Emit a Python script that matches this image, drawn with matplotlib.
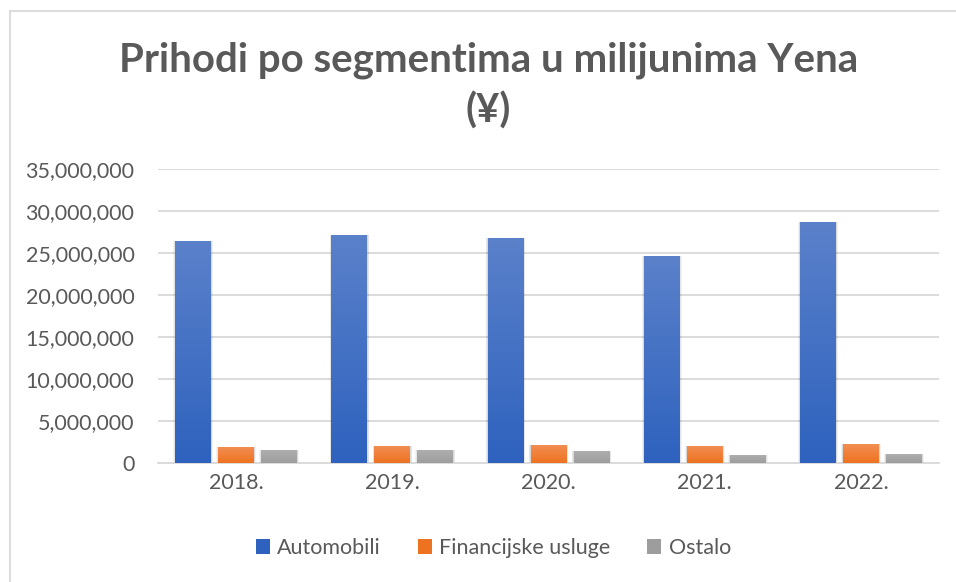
import numpy as np
import matplotlib
matplotlib.use("Agg")
import matplotlib.pyplot as plt
from matplotlib.patches import Rectangle
from matplotlib.ticker import FuncFormatter

years = ["2018.", "2019.", "2020.", "2021.", "2022."]
automobili = [26430000, 27150000, 26790000, 24650000, 28690000]
financijske = [1940000, 2060000, 2180000, 2060000, 2290000]
ostalo = [1580000, 1580000, 1460000, 990000, 1100000]

series = [
    ("Automobili", automobili, "#2e62be", "#5b81ca"),
    ("Financijske usluge", financijske, "#ee7320", "#f28f55"),
    ("Ostalo", ostalo, "#9d9d9d", "#b0b0b0"),
]

plt.rcParams['font.family'] = ['Lato', 'DejaVu Sans']
txt = "#595959"
grid = "#d9d9d9"

fig = plt.figure(figsize=(9.56, 5.82), dpi=100)
ax = fig.add_axes([0.1653, 0.204, 0.817, 0.5057])

x = np.arange(len(years))
w = 0.23
step = 0.275

for k, (name, vals, dark, light) in enumerate(series):
    off = (k - 1) * step
    bars = ax.bar(x + off, vals, w, color=dark, label=name, zorder=3)
    grad = np.linspace(0, 1, 256).reshape(-1, 1)
    cmap = matplotlib.colors.LinearSegmentedColormap.from_list("g", [dark, light])
    for b in bars:
        bx, by = b.get_x(), b.get_y()
        bw, bh = b.get_width(), b.get_height()
        # soft shadow
        for s in range(4):
            sh = Rectangle((bx - 0.004 * s, by - 120000 * s), bw + 0.008 * s, bh + 120000 * s,
                           color="black", alpha=0.05, zorder=2, lw=0)
            ax.add_patch(sh)
        im = ax.imshow(grad, extent=[bx, bx + bw, by, by + bh], origin="lower",
                       aspect="auto", cmap=cmap, zorder=4)
        im.set_clip_path(b)

ax.set_xlim(-0.5, len(years) - 0.5)
ax.set_ylim(0, 35000000)
ax.set_yticks(np.arange(0, 35000001, 5000000))
ax.yaxis.set_major_formatter(FuncFormatter(lambda v, p: f"{int(v):,}"))
ax.set_xticks(x)
ax.set_xticklabels(years)
ax.grid(axis="y", color=grid, lw=1.3, zorder=0)
for sp in ["top", "right", "left"]:
    ax.spines[sp].set_visible(False)
ax.spines["bottom"].set_color(grid)
ax.spines["bottom"].set_linewidth(1.3)
ax.tick_params(axis="both", length=0, labelsize=15.5, colors=txt, pad=7)
ax.tick_params(axis="y", pad=17)

fig.text(0.511, 0.897, "Prihodi po segmentima u milijunima Yena", ha="center", va="center",
         fontsize=29, fontweight="bold", color=txt)
fig.text(0.511, 0.81, "(¥)", ha="center", va="center",
         fontsize=29, fontweight="bold", color=txt)

leg = fig.legend(*ax.get_legend_handles_labels(), loc="center", bbox_to_anchor=(0.516, 0.058),
                 ncol=3, frameon=False, fontsize=15.5, handlelength=0.65, handleheight=0.65,
                 handletextpad=0.35, columnspacing=1.7)
for t in leg.get_texts():
    t.set_color(txt)

# chart area border
fig.add_artist(plt.Line2D([9.5 / 956, 9.5 / 956], [0, 1 - 11 / 582], color=grid, lw=1.3))
fig.add_artist(plt.Line2D([9.5 / 956, 1], [1 - 11 / 582, 1 - 11 / 582], color=grid, lw=1.3))

fig.savefig("out.png", dpi=100, facecolor="white")
